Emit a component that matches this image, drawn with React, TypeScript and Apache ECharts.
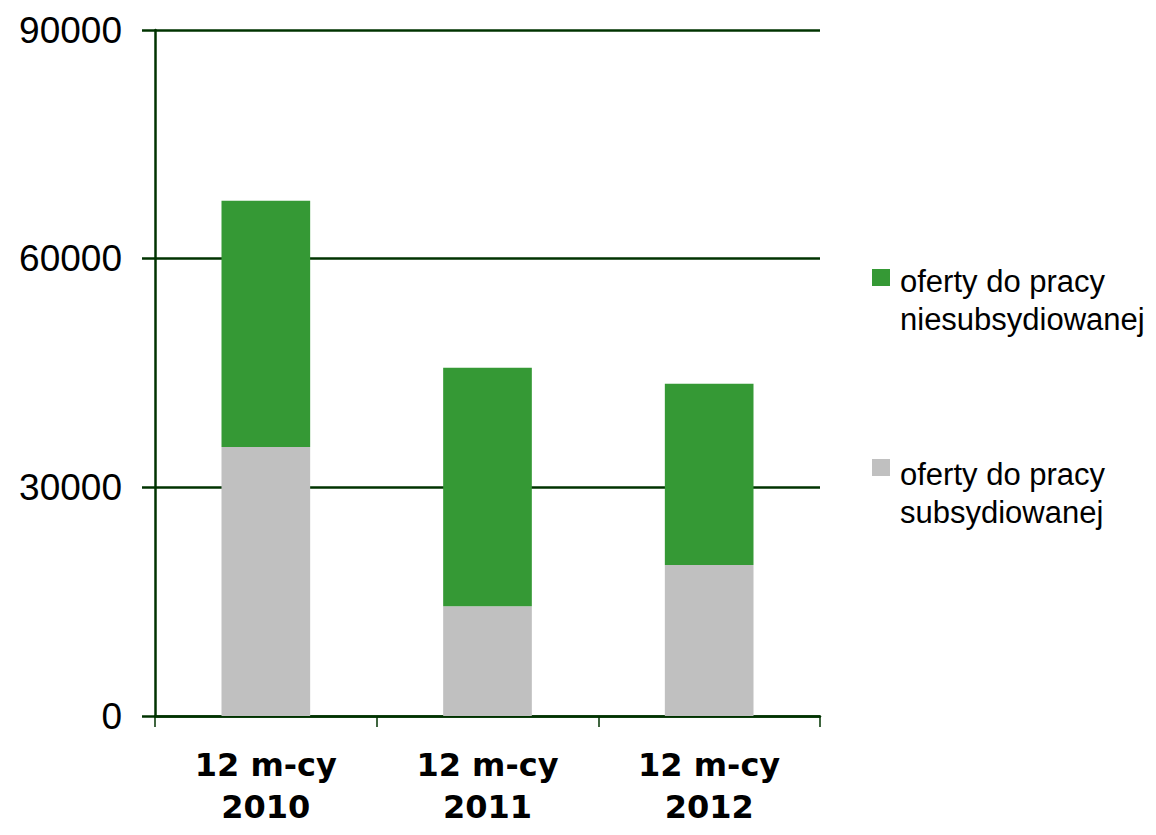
import React, { useEffect, useRef } from "react";
import * as echarts from "echarts";

const categories = ["12 m-cy\n2010", "12 m-cy\n2011", "12 m-cy\n2012"];
const seriesNames = ["oferty do pracy\nniesubsydiowanej", "oferty do pracy\nsubsydiowanej"];
const subsidized = [35300, 14400, 19800];
const unsubsidized = [32300, 31300, 23800];
const yTicks = { min: 0, max: 90000, interval: 30000 };

const GREEN = "#359935";
const GREY = "#C0C0C0";
const AXIS = "#003300";

export default function App() {
  const ref = useRef<HTMLDivElement>(null);
  useEffect(() => {
    document.body.style.margin = "0";
    const chart = echarts.init(ref.current!, null, { renderer: "svg" });
    chart.setOption({
      animation: false,
      backgroundColor: "#ffffff",
      grid: { left: 155, top: 30, width: 665, height: 686, containLabel: false },
      xAxis: {
        type: "category",
        data: categories,
        axisLine: { show: true, lineStyle: { color: AXIS, width: 2.5 } },
        axisTick: { show: true, alignWithLabel: false, length: 11, lineStyle: { color: AXIS, width: 1.5 } },
        axisLabel: {
          margin: 28,
          color: "#000000",
          fontFamily: "DejaVu Sans",
          fontWeight: "bold",
          fontSize: 32,
          lineHeight: 42,
          interval: 0,
        },
      },
      yAxis: {
        type: "value",
        min: yTicks.min,
        max: yTicks.max,
        interval: yTicks.interval,
        axisLine: { show: true, lineStyle: { color: AXIS, width: 2.5 } },
        axisTick: { show: true, length: 13, lineStyle: { color: AXIS, width: 2.5 } },
        splitLine: { show: true, lineStyle: { color: AXIS, width: 2.5 } },
        axisLabel: {
          margin: 33,
          color: "#000000",
          fontFamily: "Liberation Sans",
          fontSize: 37,
          formatter: (v: number) => String(v),
        },
      },
      series: [
        {
          name: seriesNames[1],
          type: "bar",
          stack: "total",
          data: subsidized,
          barWidth: "40%",
          itemStyle: { color: GREY },
        },
        {
          name: seriesNames[0],
          type: "bar",
          stack: "total",
          data: unsubsidized,
          barWidth: "40%",
          itemStyle: { color: GREEN },
        },
      ],
      graphic: [
        { type: "rect", left: 872, top: 269, shape: { width: 18, height: 17 }, style: { fill: GREEN } },
        {
          type: "text",
          left: 900,
          top: 262,
          style: {
            text: seriesNames[0],
            fill: "#000000",
            font: "31px 'Liberation Sans'",
            lineHeight: 38,
          },
        },
        { type: "rect", left: 872, top: 459, shape: { width: 18, height: 17 }, style: { fill: GREY } },
        {
          type: "text",
          left: 900,
          top: 455,
          style: {
            text: seriesNames[1],
            fill: "#000000",
            font: "31px 'Liberation Sans'",
            lineHeight: 38,
          },
        },
      ],
    });
    return () => chart.dispose();
  }, []);
  return <div ref={ref} style={{ width: 1156, height: 835 }} />;
}
